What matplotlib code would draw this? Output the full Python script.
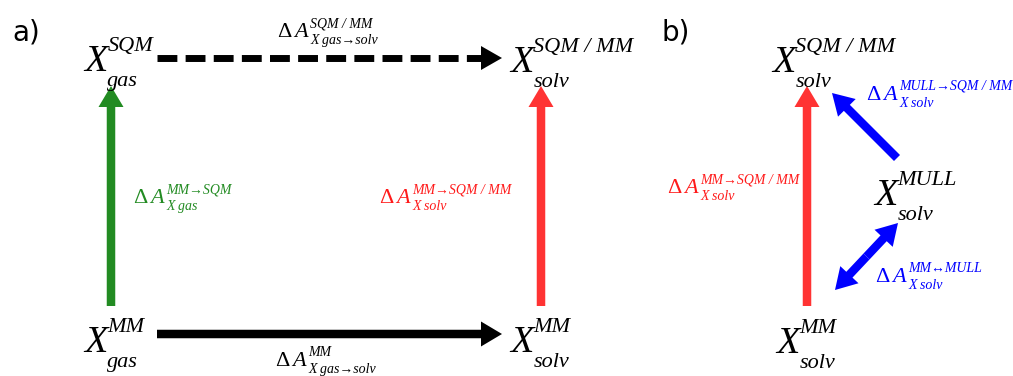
import matplotlib
matplotlib.use('Agg')
import matplotlib.pyplot as plt

SERIF = 'Liberation Serif'

# ---- content ----
panel_labels = ['a)', 'b)']
panel_pos = [(12, 41), (662, 41)]

# nodes: base symbol, superscript, subscript
node_sup = ['SQM', 'SQM / MM', 'MM', 'MM', 'SQM / MM', 'MULL', 'MM']
node_sub = ['gas', 'solv', 'gas', 'solv', 'solv', 'solv', 'solv']
node_pos = [(84, 71), (510, 72), (84, 352), (510, 352),
            (772, 72), (874, 205), (776, 353)]

# edge labels: "Δ A" with superscript / subscript
edge_sup = ['SQM / MM', 'MM', 'MM→SQM', 'MM→SQM / MM',
            'MM→SQM / MM', 'MULL→SQM / MM', 'MM↔MULL']
edge_sub = ['X gas→solv', 'X gas→solv', 'X gas', 'X solv',
            'X solv', 'X solv', 'X solv']
edge_pos = [(277, 37), (275, 366), (133, 203), (379, 203),
            (667, 193), (866, 100), (875, 282)]

GREEN = '#228b22'
RED_ARROW = '#ff3333'
RED_TEXT = '#ff1a1a'
BLUE = '#0000ff'
edge_colors = ['black', 'black', GREEN, RED_TEXT, RED_TEXT, BLUE, BLUE]

# solid arrows: (x0, y0, x1, y1, color)
solid_arrows = [(157, 334, 502, 334, 'black'),
                (111, 306, 111, 86, GREEN),
                (541, 306, 541, 86, RED_ARROW),
                (807, 306, 807, 86, RED_ARROW),
                (897, 158, 832, 93, BLUE)]
double_arrows = [(835, 290, 898, 223, BLUE)]
dashed_arrows = [(157, 58, 502, 58, 'black')]

W, H = 1013, 376
fig = plt.figure(figsize=(W / 100, H / 100), dpi=100)
ax = fig.add_axes([0, 0, 1, 1])
ax.set_xlim(0, W)
ax.set_ylim(H, 0)
ax.axis('off')
renderer = fig.canvas.get_renderer()

SHAFT = 8.5
HW = 25
HL = 21

for (x0, y0, x1, y1, c) in solid_arrows:
    ax.arrow(x0, y0, x1 - x0, y1 - y0, width=SHAFT, head_width=HW,
             head_length=HL, length_includes_head=True, color=c, lw=0)

for (x0, y0, x1, y1, c) in double_arrows:
    mx, my = (x0 + x1) / 2, (y0 + y1) / 2
    for (ex, ey) in [(x0, y0), (x1, y1)]:
        ax.arrow(mx, my, ex - mx, ey - my, width=SHAFT, head_width=HW,
                 head_length=HL, length_includes_head=True, color=c, lw=0)

for (x0, y0, x1, y1, c) in dashed_arrows:
    xe = x1 - HL
    ax.plot([x0, xe], [y0, y1], color=c, lw=5.0,
            linestyle=(0, (2.86, 1.19)), dash_capstyle='butt')
    ax.arrow(xe, y1, HL, 0, width=0.01, head_width=24, head_length=HL,
             length_includes_head=True, color=c, lw=0)

for lab, (x, y) in zip(panel_labels, panel_pos):
    ax.text(x, y, lab, fontsize=20, family='DejaVu Sans', ha='left',
            va='baseline')


def right_edge(t):
    return t.get_window_extent(renderer).x1


def scripted(x, y, base_parts, sup, sub, fs, fs_small, up, down, gap,
             color):
    cur = x
    for txt, style, extra in base_parts:
        t = ax.text(cur, y, txt, fontsize=fs, family=SERIF, style=style,
                    ha='left', va='baseline', color=color)
        cur = right_edge(t) + extra
    ax.text(cur + gap, y - up, sup, fontsize=fs_small, family=SERIF,
            style='italic', ha='left', va='baseline', color=color)
    ax.text(cur + gap, y + down, sub, fontsize=fs_small, family=SERIF,
            style='italic', ha='left', va='baseline', color=color)


for sup, sub, (x, y) in zip(node_sup, node_sub, node_pos):
    scripted(x, y, [('X', 'italic', 0)], sup, sub, 27.5, 16,
             20, 15, 0, 'black')

for sup, sub, (x, y), c in zip(edge_sup, edge_sub, edge_pos, edge_colors):
    scripted(x, y, [('Δ', 'normal', 3), ('A', 'italic', 0)], sup, sub,
             16, 10, 10, 7, 2, c)

fig.savefig('out.png', dpi=100)
